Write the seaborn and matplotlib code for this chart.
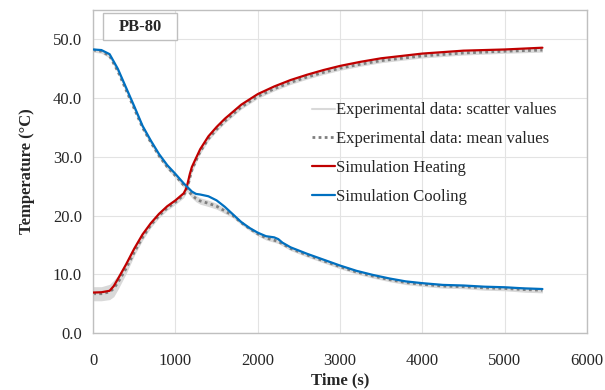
import numpy as np
import pandas as pd
import matplotlib
matplotlib.use("Agg")
import matplotlib.pyplot as plt
from matplotlib.patches import Rectangle
from matplotlib.lines import Line2D
import seaborn as sns

# ---------------- data ----------------
heat_time = [0, 100, 200, 250, 300, 400, 500, 600, 700, 800, 900, 1000, 1100, 1130,
             1150, 1175, 1200, 1250, 1300, 1400, 1500, 1600, 1800, 2000, 2200, 2400,
             2600, 2800, 3000, 3250, 3500, 4000, 4500, 5000, 5460]
heat_sim = [6.9, 6.95, 7.2, 8.0, 9.2, 11.7, 14.4, 16.8, 18.7, 20.3, 21.6, 22.6, 23.8, 24.6,
            25.6, 27.1, 28.3, 29.8, 31.3, 33.5, 35.1, 36.5, 38.9, 40.7, 42.0, 43.1,
            44.0, 44.8, 45.5, 46.2, 46.8, 47.6, 48.1, 48.3, 48.6]
heat_exp_mean = [6.7, 6.7, 7.0, 7.6, 8.6, 11.0, 13.8, 16.3, 18.4, 20.0, 21.3, 22.3, 23.5, 24.3,
                 25.0, 26.5, 27.8, 29.4, 30.9, 33.1, 34.7, 36.1, 38.5, 40.3, 41.6, 42.7,
                 43.6, 44.4, 45.1, 45.8, 46.4, 47.2, 47.7, 48.0, 48.2]
heat_exp_spread = [1.2, 1.2, 1.3, 1.4, 1.2, 0.9, 0.6, 0.5, 0.45, 0.4, 0.4, 0.4, 0.45, 0.5,
                   0.5, 0.5, 0.45, 0.4, 0.4, 0.35, 0.35, 0.35, 0.35, 0.35, 0.35, 0.35,
                   0.35, 0.35, 0.35, 0.35, 0.35, 0.35, 0.35, 0.35, 0.35]

cool_time = [0, 100, 200, 300, 400, 500, 600, 700, 800, 900, 1000, 1100, 1150, 1200, 1250,
             1300, 1400, 1500, 1600, 1700, 1800, 1900, 2000, 2100, 2200, 2250, 2300, 2400,
             2600, 2800, 3000, 3200, 3400, 3600, 3800, 4000, 4250, 4500, 4750, 5000, 5250, 5460]
cool_sim = [48.3, 48.2, 47.5, 45.0, 41.8, 38.6, 35.3, 32.8, 30.5, 28.6, 27.1, 25.5, 24.8, 24.1, 23.7,
            23.6, 23.3, 22.6, 21.5, 20.2, 18.9, 17.9, 17.1, 16.5, 16.3, 16.0, 15.4, 14.6,
            13.5, 12.5, 11.5, 10.6, 9.9, 9.3, 8.8, 8.5, 8.2, 8.1, 7.9, 7.8, 7.6, 7.5]
cool_exp_mean = [48.2, 48.0, 47.2, 44.6, 41.4, 38.2, 35.0, 32.5, 30.2, 28.3, 26.8, 25.2, 24.4, 23.5, 22.9,
                 22.5, 22.1, 21.6, 20.8, 20.0, 18.8, 17.8, 16.9, 16.2, 15.8, 15.6, 15.2, 14.4,
                 13.3, 12.3, 11.3, 10.4, 9.7, 9.1, 8.6, 8.3, 8.0, 7.9, 7.7, 7.6, 7.4, 7.3]
cool_exp_spread = [0.35, 0.35, 0.35, 0.4, 0.4, 0.4, 0.4, 0.4, 0.4, 0.4, 0.4, 0.45, 0.5, 0.5, 0.55,
                   0.55, 0.55, 0.5, 0.45, 0.4, 0.35, 0.35, 0.35, 0.35, 0.35, 0.35, 0.35, 0.35,
                   0.35, 0.35, 0.35, 0.35, 0.35, 0.35, 0.35, 0.35, 0.35, 0.35, 0.4, 0.4, 0.45, 0.45]

x_ticks = [0, 1000, 2000, 3000, 4000, 5000, 6000]
y_ticks = [0, 10, 20, 30, 40, 50]
label_scatter = "Experimental data: scatter values"
label_mean = "Experimental data: mean values"
label_heat = "Simulation Heating"
label_cool = "Simulation Cooling"
panel_label = "PB-80"

# ---------------- style ----------------
sns.set_theme(style="white")
plt.rcParams["font.family"] = ["Liberation Serif", "DejaVu Serif"]

RED = "#C00000"
BLUE = "#0070C0"
MEAN_GRAY = "#7F7F7F"
SCAT_GRAY = "#D9D9D9"
GRID = "#E3E3E3"
FRAME = "#BFBFBF"
FS = 12

fig = plt.figure(figsize=(6.05, 3.9), dpi=100)
ax = fig.add_axes([0.154, 0.146, 0.816, 0.828])

heat = pd.DataFrame({"t": heat_time, "sim": heat_sim, "mean": heat_exp_mean,
                     "spread": heat_exp_spread})
cool = pd.DataFrame({"t": cool_time, "sim": cool_sim, "mean": cool_exp_mean,
                     "spread": cool_exp_spread})

for df in (heat, cool):
    ax.fill_between(df["t"], df["mean"] - df["spread"], df["mean"] + df["spread"],
                    color=SCAT_GRAY, lw=0, zorder=1)
    sns.lineplot(data=df, x="t", y="mean", ax=ax, color=MEAN_GRAY, lw=2.0,
                 linestyle=(0, (1, 1.2)), zorder=2, legend=False)

sns.lineplot(data=heat, x="t", y="sim", ax=ax, color=RED, lw=1.6, zorder=3, legend=False)
sns.lineplot(data=cool, x="t", y="sim", ax=ax, color=BLUE, lw=1.6, zorder=3, legend=False)

ax.set_xlim(0, 6000)
ax.set_ylim(0, 55)
ax.set_xticks(x_ticks)
ax.set_yticks(y_ticks)
ax.set_xticklabels([str(v) for v in x_ticks])
ax.set_yticklabels([f"{v:.1f}" for v in y_ticks])
ax.tick_params(axis="both", length=0, labelsize=FS, colors="#262626", pad=8)
ax.tick_params(axis="x", pad=14)
ax.grid(True, color=GRID, lw=0.8)
for s in ax.spines.values():
    s.set_color(FRAME)
    s.set_linewidth(1.0)

ax.set_xlabel("Time (s)", fontsize=FS, fontweight="bold", labelpad=3)
ax.set_ylabel("Temperature (°C)", fontsize=FS, fontweight="bold", labelpad=13)

handles = [
    Line2D([], [], color=SCAT_GRAY, lw=1.5),
    Line2D([], [], color=MEAN_GRAY, lw=2.0, linestyle=(0, (1, 1.2))),
    Line2D([], [], color=RED, lw=1.6),
    Line2D([], [], color=BLUE, lw=1.6),
]
leg = ax.legend(handles, [label_scatter, label_mean, label_heat, label_cool],
                loc="upper left", bbox_to_anchor=(0.43, 0.735), frameon=False,
                fontsize=FS, handlelength=1.35, handletextpad=0.1, labelspacing=0.77,
                borderaxespad=0)

# panel label box
rect = Rectangle((0.02, 0.907), 0.15, 0.084, transform=ax.transAxes,
                 facecolor="white", edgecolor=FRAME, lw=1.0, zorder=5)
ax.add_patch(rect)
ax.text(0.095, 0.949, panel_label, transform=ax.transAxes, ha="center", va="center",
        fontsize=FS, fontweight="bold", zorder=6)

fig.savefig("out.png", dpi=100)
